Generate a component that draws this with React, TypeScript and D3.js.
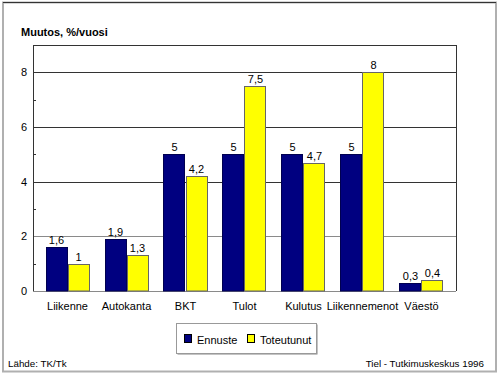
import React from "react";
import * as d3 from "d3";

const categories = ["Liikenne", "Autokanta", "BKT", "Tulot", "Kulutus", "Liikennemenot", "Väestö"];
const ennuste = [1.6, 1.9, 5, 5, 5, 5, 0.3];
const toteutunut = [1, 1.3, 4.2, 7.5, 4.7, 8, 0.4];
const ennusteLabels = ["1,6", "1,9", "5", "5", "5", "5", "0,3"];
const toteutunutLabels = ["1", "1,3", "4,2", "7,5", "4,7", "8", "0,4"];
const majorTicks = [0, 2, 4, 6, 8];
const minorTicks = [1, 3, 5, 7];
const seriesNames = ["Ennuste", "Toteutunut"];

const W = 500;
const H = 374;
const left = 33;
const right = 456;
const top = 45;
const bottom = 291;
const BLUE = "#000080";
const YELLOW = "#ffff00";
const FONT = "'Liberation Sans', Arial, sans-serif";

export default function App() {
  const x = d3.scaleBand<string>().domain(categories).range([left, right]).paddingInner(0.254).paddingOuter(0.212);
  const y = d3.scaleLinear().domain([0, 9]).range([bottom, top]);
  const sub = d3.scaleBand<string>().domain(seriesNames).range([0, x.bandwidth()]);
  const series = [
    { name: seriesNames[0], values: ennuste, labels: ennusteLabels, color: BLUE, stroke: "#000050" },
    { name: seriesNames[1], values: toteutunut, labels: toteutunutLabels, color: YELLOW, stroke: "#666" },
  ];

  return (
    <svg width={W} height={H} style={{ position: "absolute", left: 0, top: 0, background: "#fff" }} fontFamily={FONT}>
      <rect x={3} y={2.5} width={493} height={369} fill="#fff" stroke="#b0b0b0" strokeWidth={2} />
      <line x1={3} x2={496} y1={2.5} y2={2.5} stroke="#333" strokeWidth={1} />

      <text x={21} y={36} fontSize={11} fontWeight="bold" fill="#000">Muutos, %/vuosi</text>

      <line x1={left} x2={right} y1={top + 0.5} y2={top + 0.5} stroke="#333" />
      <line x1={right + 0.5} x2={right + 0.5} y1={top} y2={bottom} stroke="#333" />

      {majorTicks.map((t) => (
        <g key={t}>
          <line x1={left} x2={right} y1={Math.round(y(t)) + 0.5} y2={Math.round(y(t)) + 0.5}
            stroke={t <= 2 ? "#8a8a8a" : "#333"} />
          <text x={27} y={y(t) + 4} fontSize={11} textAnchor="end" fill="#000">{t}</text>
        </g>
      ))}
      {minorTicks.map((t) => (
        <line key={t} x1={left} x2={left + 3} y1={Math.round(y(t)) + 0.5} y2={Math.round(y(t)) + 0.5} stroke="#333" />
      ))}
      <line x1={left + 0.5} x2={left + 0.5} y1={top} y2={bottom} stroke="#333" />

      {series.map((s) =>
        categories.map((c, i) => {
          const bx = (x(c) as number) + (sub(s.name) as number);
          const by = y(s.values[i]);
          return (
            <g key={s.name + c}>
              <rect x={Math.round(bx) + 0.5} y={Math.round(by) + 0.5} width={Math.round(sub.bandwidth()) - 1}
                height={Math.round(bottom - by) - 0.5} fill={s.color} stroke={s.stroke} strokeWidth={1} />
              <text x={bx + sub.bandwidth() / 2} y={by - 3} fontSize={11} textAnchor="middle" fill="#000">{s.labels[i]}</text>
            </g>
          );
        })
      )}

      {categories.map((c) => (
        <text key={c} x={(x(c) as number) + x.bandwidth() / 2} y={310} fontSize={11} textAnchor="middle" fill="#000">{c}</text>
      ))}

      <rect x={177.5} y={324.5} width={140} height={30} fill="#888" stroke="none" />
      <rect x={176.5} y={323.5} width={140} height={30} fill="#fff" stroke="#999" />
      <rect x={184.5} y={334.5} width={7} height={8} fill={BLUE} stroke="#000" />
      <text x={197} y={344} fontSize={11} fill="#000">Ennuste</text>
      <rect x={247.5} y={334.5} width={7} height={8} fill={YELLOW} stroke="#000" />
      <text x={260} y={344} fontSize={11} fill="#000">Toteutunut</text>

      <text x={8} y={367} fontSize={9.8} fill="#000">Lähde: TK/Tk</text>
      <text x={484} y={367} fontSize={9.8} textAnchor="end" fill="#000">Tiel - Tutkimuskeskus 1996</text>
    </svg>
  );
}
